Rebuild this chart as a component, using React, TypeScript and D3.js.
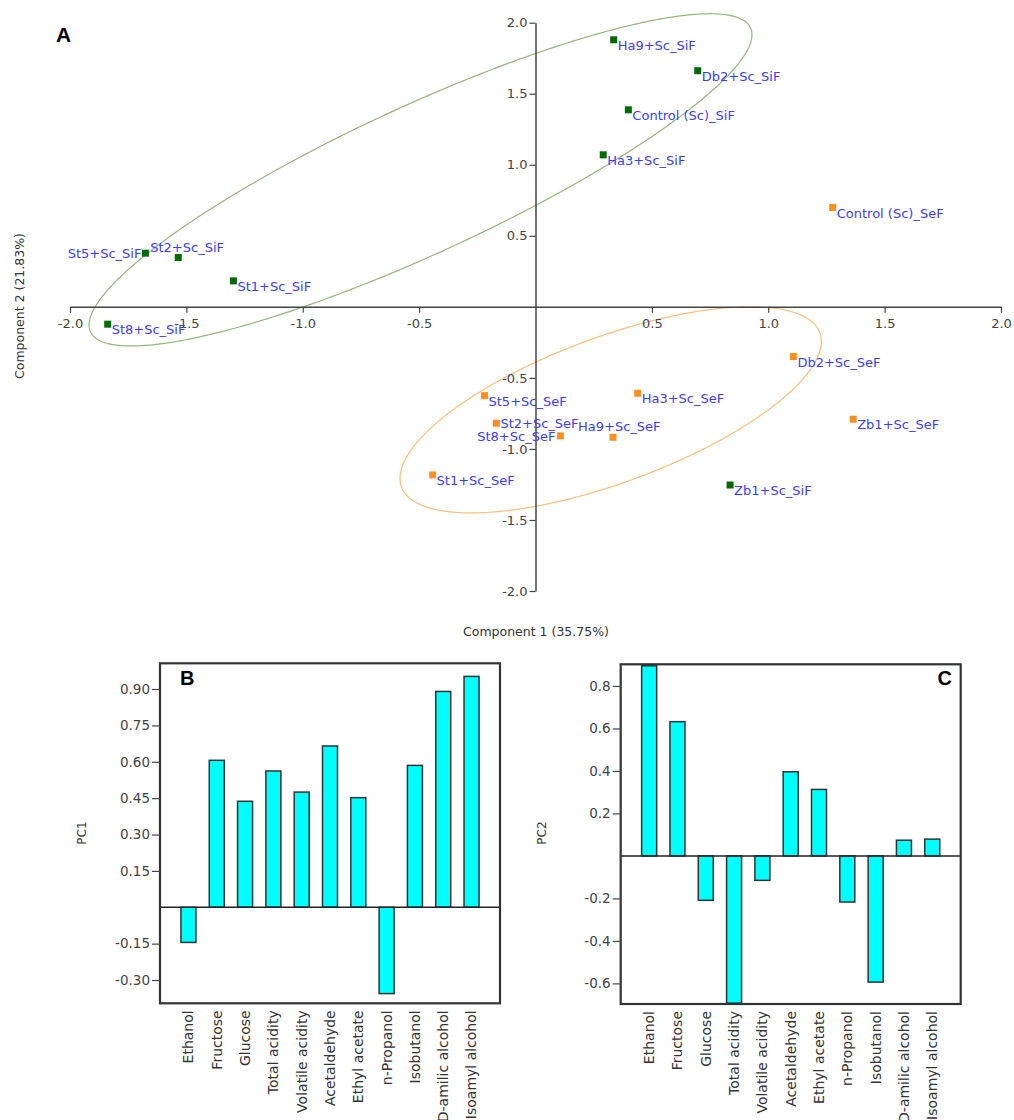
import React, { useEffect, useRef } from 'react';
import * as d3 from 'd3';

// PCA scores (panel A)
const sampleNames = [
  'St5+Sc_SiF', 'St2+Sc_SiF', 'St1+Sc_SiF', 'St8+Sc_SiF', 'Ha9+Sc_SiF', 'Db2+Sc_SiF',
  'Control (Sc)_SiF', 'Ha3+Sc_SiF', 'Zb1+Sc_SiF',
  'Control (Sc)_SeF', 'Db2+Sc_SeF', 'St5+Sc_SeF', 'Ha3+Sc_SeF', 'St2+Sc_SeF', 'St8+Sc_SeF',
  'Ha9+Sc_SeF', 'St1+Sc_SeF', 'Zb1+Sc_SeF'
];
const component1 = [-1.676, -1.535, -1.298, -1.838, 0.336, 0.697, 0.399, 0.291, 0.836,
  1.277, 1.108, -0.219, 0.439, -0.168, 0.107, 0.333, -0.442, 1.365];
const component2 = [0.378, 0.347, 0.183, -0.122, 1.880, 1.662, 1.387, 1.070, -1.254,
  0.699, -0.350, -0.625, -0.608, -0.819, -0.908, -0.918, -1.183, -0.791];
const fermentation = ['SiF', 'SiF', 'SiF', 'SiF', 'SiF', 'SiF', 'SiF', 'SiF', 'SiF',
  'SeF', 'SeF', 'SeF', 'SeF', 'SeF', 'SeF', 'SeF', 'SeF', 'SeF'];
const scoreTicks = [-2, -1.5, -1, -0.5, 0.5, 1, 1.5, 2];

// group ellipses: centre and two conjugate semi-diameters, in score units
const ellipseGroups = ['SiF', 'SeF'];
const ellipseCentres = [[-0.494, 0.894], [0.323, -0.725]];
const ellipseAxisA = [[1.424, 1.021], [0.905, 0.481]];
const ellipseAxisB = [[0, 0.570], [0, 0.543]];

// loadings (panels B and C)
const variables = ['Ethanol', 'Fructose', 'Glucose', 'Total acidity', 'Volatile acidity', 'Acetaldehyde',
  'Ethyl acetate', 'n-Propanol', 'Isobutanol', 'D-amilic alcohol', 'Isoamyl alcohol'];
const pc1Loadings = [-0.145, 0.606, 0.437, 0.562, 0.475, 0.665, 0.452, -0.356, 0.585, 0.890, 0.952];
const pc2Loadings = [0.895, 0.632, -0.209, -0.693, -0.115, 0.396, 0.313, -0.217, -0.594, 0.074, 0.079];
const pc1Ticks = [-0.30, -0.15, 0.15, 0.30, 0.45, 0.60, 0.75, 0.90];
const pc2Ticks = [-0.6, -0.4, -0.2, 0.2, 0.4, 0.6, 0.8];

const groupColor = { SiF: '#006b00', SeF: '#ff9020' };
const ellipseColor = { SiF: '#93b77a', SeF: '#ffbe7a' };
const labelColor = '#3c3cff';
const font = 'DejaVu Sans, Verdana, sans-serif';

// manual label placement (anchor, dx, dy) where the default would differ
const labelNudge = {
  'St5+Sc_SiF': ['end', -4, 5],
  'St2+Sc_SiF': ['start', -28, -6],
  'St2+Sc_SeF': ['start', 4, 5],
  'St8+Sc_SeF': ['end', -5, 5],
  'Ha9+Sc_SeF': ['start', -35, -6],
};

function styleAxis(g, size) {
  g.select('.domain').attr('stroke', '#444').attr('stroke-width', 1.5);
  g.selectAll('.tick line').attr('stroke', '#444').attr('stroke-width', 1.2);
  g.selectAll('.tick text').attr('fill', '#444').attr('font-family', font).attr('font-size', size);
}

function drawScores(svg) {
  const x = d3.scaleLinear().domain([-2, 2]).range([70, 1001]);
  const y = d3.scaleLinear().domain([-2, 2]).range([591, 22.7]);
  const g = svg.append('g');

  const angles = d3.range(0, 2 * Math.PI, 0.01);
  ellipseGroups.forEach((grp, i) => {
    const c = ellipseCentres[i], a = ellipseAxisA[i], b = ellipseAxisB[i];
    const line = d3.line()
      .x(t => x(c[0] + a[0] * Math.cos(t) + b[0] * Math.sin(t)))
      .y(t => y(c[1] + a[1] * Math.cos(t) + b[1] * Math.sin(t)))
      .curve(d3.curveLinearClosed);
    g.append('path')
      .attr('d', line(angles))
      .attr('fill', 'none')
      .attr('stroke', ellipseColor[grp])
      .attr('stroke-width', 1.2);
  });

  const xAxis = d3.axisBottom(x).tickValues(scoreTicks).tickFormat(d => d.toFixed(1))
    .tickSize(6).tickSizeOuter(0).tickPadding(6);
  g.append('g').attr('transform', 'translate(0,' + y(0) + ')').call(xAxis).call(s => styleAxis(s, 13));

  const yAxis = d3.axisLeft(y).tickValues(scoreTicks).tickFormat(d => d.toFixed(1))
    .tickSize(6).tickSizeOuter(0).tickPadding(2);
  g.append('g').attr('transform', 'translate(' + x(0) + ',0)').call(yAxis).call(s => styleAxis(s, 13));

  const idx = d3.range(sampleNames.length);
  g.selectAll('rect.pt').data(idx).enter().append('rect')
    .attr('class', 'pt')
    .attr('x', i => x(component1[i]) - 3.5)
    .attr('y', i => y(component2[i]) - 3.5)
    .attr('width', 7).attr('height', 7)
    .attr('fill', i => groupColor[fermentation[i]]);

  g.selectAll('text.lbl').data(idx).enter().append('text')
    .attr('class', 'lbl')
    .attr('x', i => x(component1[i]) + (labelNudge[sampleNames[i]] ? labelNudge[sampleNames[i]][1] : 4))
    .attr('y', i => y(component2[i]) + (labelNudge[sampleNames[i]] ? labelNudge[sampleNames[i]][2] : 10))
    .attr('text-anchor', i => (labelNudge[sampleNames[i]] ? labelNudge[sampleNames[i]][0] : 'start'))
    .attr('fill', labelColor)
    .attr('font-family', font)
    .attr('font-size', 13)
    .text(i => sampleNames[i]);

  g.append('text').attr('x', 536).attr('y', 636).attr('text-anchor', 'middle')
    .attr('font-family', font).attr('font-size', 12.5).attr('fill', '#333')
    .text('Component 1 (35.75%)');
  g.append('text').attr('transform', 'translate(24,306) rotate(-90)').attr('text-anchor', 'middle')
    .attr('font-family', font).attr('font-size', 12.5).attr('fill', '#333')
    .text('Component 2 (21.83%)');
  g.append('text').attr('x', 56).attr('y', 42)
    .attr('font-family', 'Liberation Sans, Arial, sans-serif').attr('font-weight', 'bold').attr('font-size', 21)
    .text('A');
}

function drawLoadings(svg, o) {
  const x = d3.scaleBand().domain(variables).range([o.left, o.right]).paddingInner(0.47).paddingOuter(0.74);
  const y = d3.scaleLinear().domain(o.domain).range([o.bottom, o.top]);
  const g = svg.append('g');

  g.selectAll('rect.bar').data(o.values).enter().append('rect')
    .attr('class', 'bar')
    .attr('x', (d, i) => x(variables[i]))
    .attr('width', x.bandwidth())
    .attr('y', d => y(Math.max(0, d)))
    .attr('height', d => Math.abs(y(d) - y(0)))
    .attr('fill', '#00ffff')
    .attr('stroke', '#333')
    .attr('stroke-width', 1.5);

  g.append('line').attr('x1', o.left).attr('x2', o.right).attr('y1', y(0)).attr('y2', y(0))
    .attr('stroke', '#222').attr('stroke-width', 1.5);

  g.append('rect').attr('x', o.left).attr('y', o.top)
    .attr('width', o.right - o.left).attr('height', o.bottom - o.top)
    .attr('fill', 'none').attr('stroke', '#333').attr('stroke-width', 2.2);

  const yAxis = d3.axisLeft(y).tickValues(o.ticks).tickFormat(o.fmt).tickSize(8).tickSizeOuter(0).tickPadding(2);
  g.append('g').attr('transform', 'translate(' + o.left + ',0)').call(yAxis)
    .call(s => { styleAxis(s, 13.5); s.select('.domain').remove(); });

  g.selectAll('text.cat').data(variables).enter().append('text')
    .attr('class', 'cat')
    .attr('transform', d => 'translate(' + (x(d) + x.bandwidth() / 2) + ',' + (o.bottom + 7) + ') rotate(-90)')
    .attr('text-anchor', 'end')
    .attr('dy', '0.35em')
    .attr('font-family', font).attr('font-size', 14).attr('fill', '#333')
    .text(d => d);

  g.append('text').attr('transform', 'translate(' + o.titleX + ',833) rotate(-90)').attr('text-anchor', 'middle')
    .attr('font-family', font).attr('font-size', 12).attr('fill', '#333')
    .text(o.title);

  g.append('text').attr('x', o.letterX).attr('y', 685).attr('text-anchor', o.letterAnchor)
    .attr('font-family', 'Liberation Sans, Arial, sans-serif').attr('font-weight', 'bold').attr('font-size', 20)
    .text(o.letter);
}

export default function App() {
  const ref = useRef(null);
  useEffect(() => {
    const svg = d3.select(ref.current);
    svg.selectAll('*').remove();
    drawScores(svg);
    drawLoadings(svg, {
      values: pc1Loadings, ticks: pc1Ticks, fmt: d => d.toFixed(2),
      left: 160, right: 500, top: 663.3, bottom: 1003.3, domain: [-0.396, 1.006],
      title: 'PC1', titleX: 86, letter: 'B', letterX: 180, letterAnchor: 'start'
    });
    drawLoadings(svg, {
      values: pc2Loadings, ticks: pc2Ticks, fmt: d => d.toFixed(1),
      left: 620.7, right: 960.7, top: 664.3, bottom: 1004, domain: [-0.697, 0.902],
      title: 'PC2', titleX: 546, letter: 'C', letterX: 952, letterAnchor: 'end'
    });
  }, []);
  return (
    <svg ref={ref} width={1014} height={1120}
      style={{ position: 'absolute', left: 0, top: 0, background: '#fff' }} />
  );
}
